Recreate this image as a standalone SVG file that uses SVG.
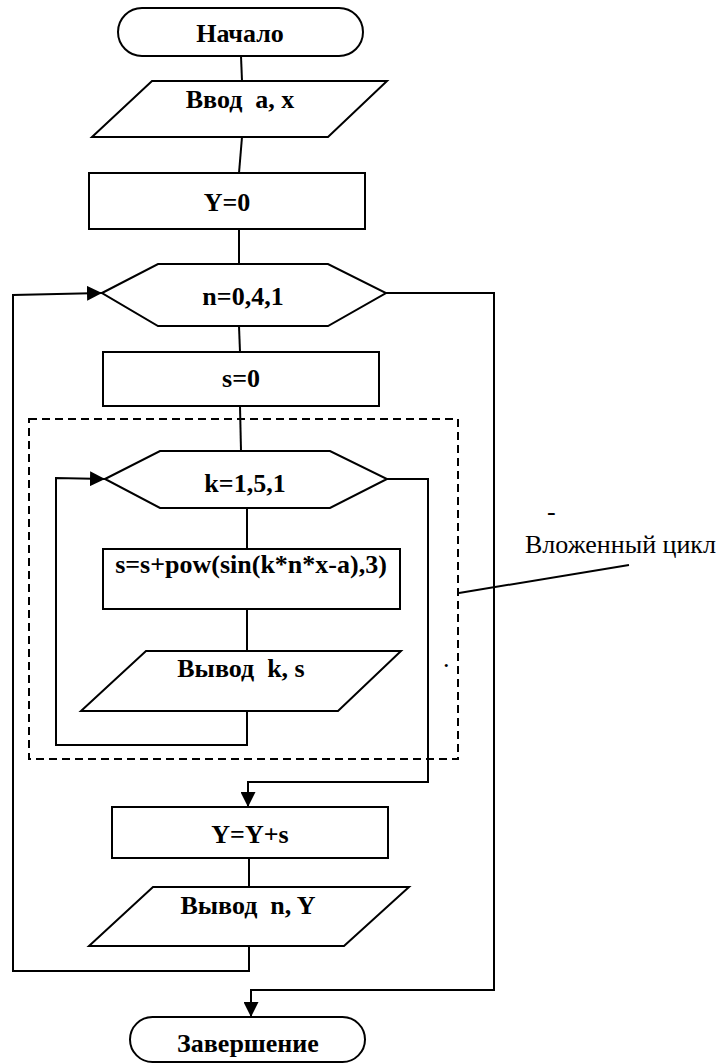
<svg xmlns="http://www.w3.org/2000/svg" width="722" height="1063" viewBox="0 0 722 1063" font-family="'Liberation Serif', 'Times New Roman', 'DejaVu Serif', serif">
<defs>
<style>
.s{fill:#fff;stroke:#000;stroke-width:2}
.t{font-family:'Liberation Serif','Times New Roman','DejaVu Serif',serif;font-weight:bold;font-size:26px;fill:#000;text-anchor:middle}
.c{fill:none;stroke:#000;stroke-width:2}
.l{font-family:'Liberation Serif','Times New Roman','DejaVu Serif',serif;font-size:26px;fill:#000}
</style>
<marker id="ah" viewBox="0 0 10 10" refX="10" refY="5" markerWidth="15" markerHeight="15" markerUnits="userSpaceOnUse" orient="auto">
<path d="M0,0 L10,5 L0,10 Z" fill="#000"/>
</marker>
</defs>
<rect width="722" height="1063" fill="#fff"/>
<g id="connectors">
<path class="c" d="M241,56 L242,81"/>
<path class="c" d="M242,137 L239,173"/>
<path class="c" d="M239,229 L239,264"/>
<path class="c" d="M239,326 L240,352"/>
<path class="c" d="M240,406 L241,451"/>
<path class="c" d="M247,508 L247,549"/>
<path class="c" d="M247,609 L247,651"/>
<path class="c" d="M247,711 L247,745 L56,745 L56,478 L105,479" marker-end="url(#ah)"/>
<path class="c" d="M387,479 L428,479 L428,782 L248,782 L248,807" marker-end="url(#ah)"/>
<path class="c" d="M249,858 L249,887"/>
<path class="c" d="M249,946 L249,971 L13,971 L13,295 L102,293" marker-end="url(#ah)"/>
<path class="c" d="M386,293 L494,293 L494,990 L251,990 L251,1017" marker-end="url(#ah)"/>
<path class="c" d="M459,593 L629,565"/>
</g>
<g id="loopframe">
<rect x="29" y="419" width="429" height="340" fill="none" stroke="#000" stroke-width="2" stroke-dasharray="8,5"/>
</g>
<g id="start">
<rect class="s" x="118" y="8" width="245" height="48" rx="24"/>
<text class="t" x="240" y="42">Начало</text>
</g>
<g id="input">
<polygon class="s" points="152,81 387,81 328,137 92,137"/>
<text class="t" x="240" y="108" xml:space="preserve">Ввод  a, x</text>
</g>
<g id="init-y">
<rect class="s" x="89" y="173" width="276" height="56"/>
<text class="t" x="227" y="211">Y=0</text>
</g>
<g id="loop-n">
<polygon class="s" points="102,293 158,264 328,264 386,293 328,326 158,326"/>
<text class="t" x="243" y="305">n=0,4,1</text>
</g>
<g id="init-s">
<rect class="s" x="103" y="352" width="276" height="54"/>
<text class="t" x="241" y="387">s=0</text>
</g>
<g id="loop-k">
<polygon class="s" points="105,479 160,451 330,451 387,479 330,508 160,508"/>
<text class="t" x="245" y="492">k=1,5,1</text>
</g>
<g id="calc-s">
<rect class="s" x="103" y="549" width="297" height="60"/>
<text class="t" x="251" y="573">s=s+pow(sin(k*n*x-a),3)</text>
</g>
<g id="output-ks">
<polygon class="s" points="146,651 401,651 338,711 81,711"/>
<text class="t" x="241" y="677" xml:space="preserve">Вывод  k, s</text>
</g>
<g id="calc-y">
<rect class="s" x="112" y="807" width="276" height="51"/>
<text class="t" x="250" y="843">Y=Y+s</text>
</g>
<g id="output-ny">
<polygon class="s" points="153,887 409,887 344,946 89,946"/>
<text class="t" x="248" y="914" xml:space="preserve">Вывод  n, Y</text>
</g>
<g id="end">
<rect class="s" x="130" y="1017" width="235" height="45" rx="22.5"/>
<text class="t" x="248" y="1052">Завершение</text>
</g>
<g id="label">
<text class="l" x="525" y="553">Вложенный цикл</text>
<text class="l" x="547" y="520" font-size="14">-</text>
<text class="l" x="443" y="667" font-size="12">.</text>
</g>
</svg>
